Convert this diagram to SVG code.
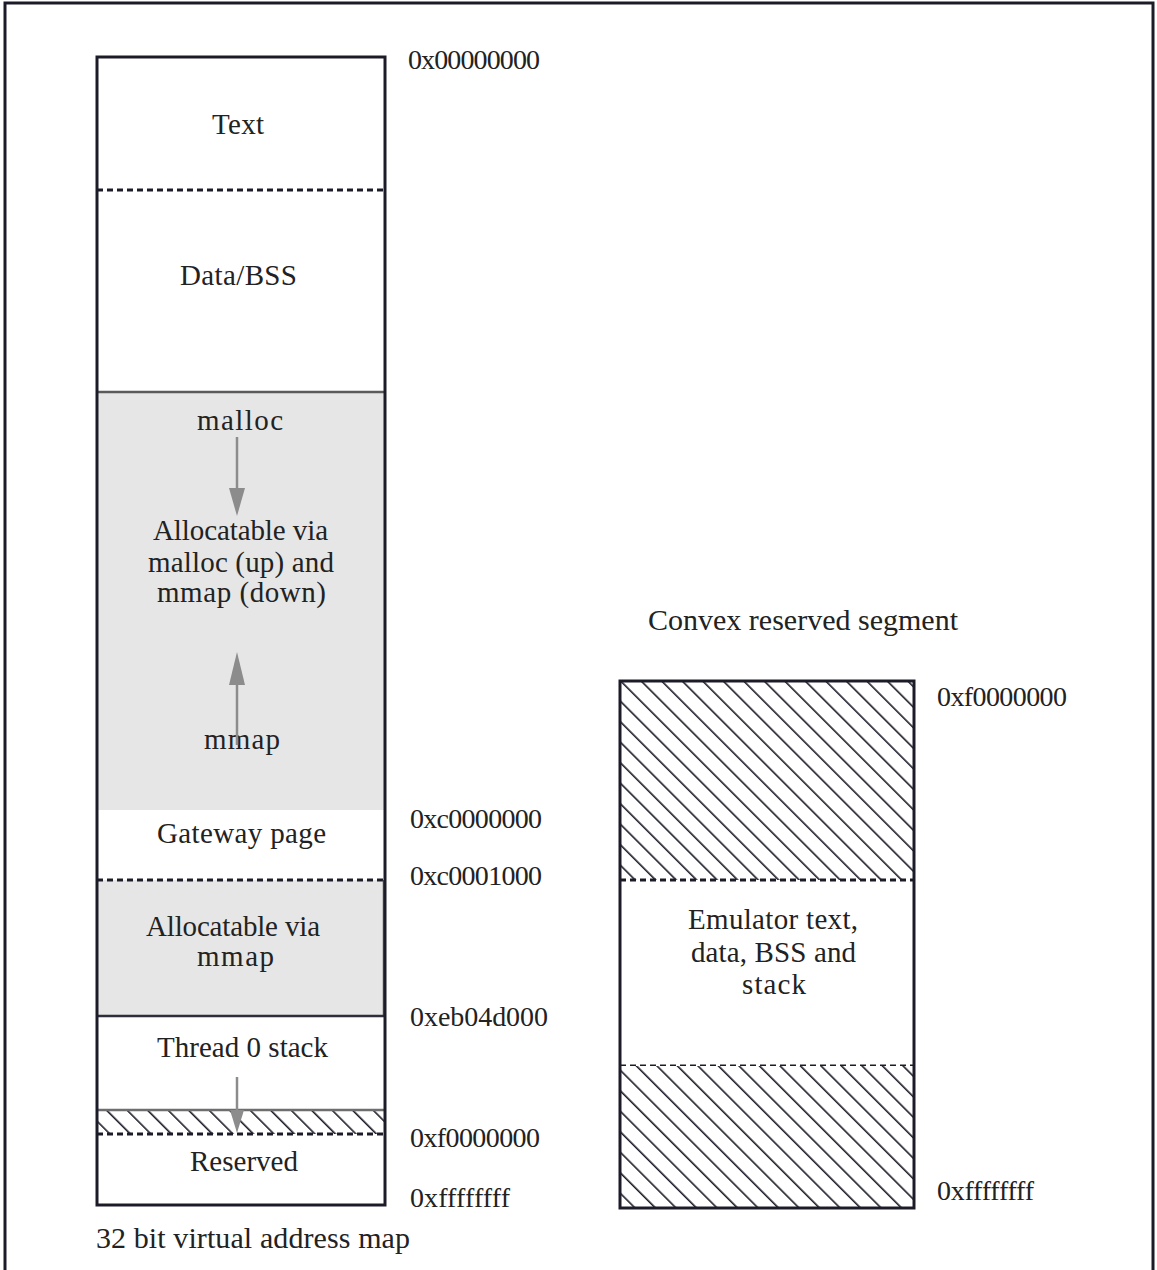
<svg xmlns="http://www.w3.org/2000/svg" width="1157" height="1270" viewBox="0 0 1157 1270">
  <defs>
    <!-- diagonal hatching: lines running from top-left to bottom-right -->
    <pattern id="hatch" width="14.5" height="14.5" patternUnits="userSpaceOnUse" patternTransform="rotate(-45)">
      <rect width="14.5" height="14.5" fill="#ffffff"/>
      <line x1="0" y1="0" x2="0" y2="14.5" stroke="#1c1c28" stroke-width="3.2"/>
    </pattern>
    <style>
      .frame { fill: none; stroke: #1c1c28; stroke-width: 3; }
      .box { fill: none; stroke: #1c1c28; stroke-width: 3; }
      .dash { stroke: #1c1c28; stroke-width: 3; stroke-dasharray: 6 4; fill: none; }
      .grayfill { fill: #e6e6e6; }
      .grayedge { stroke: #5a5a5a; stroke-width: 2.5; fill: none; }
      .lbl { font-family: "Liberation Serif", "DejaVu Serif", serif; font-size: 29px; fill: #222; text-anchor: middle; }
      .addr { font-family: "Liberation Serif", "DejaVu Serif", serif; font-size: 28px; fill: #222; }
      .cap { font-family: "Liberation Serif", "DejaVu Serif", serif; font-size: 30px; fill: #222; }
      .arrow { stroke: #8c8c8c; stroke-width: 2.5; fill: none; }
      .head { fill: #8c8c8c; }
    </style>
  </defs>

  <rect width="1157" height="1270" fill="#ffffff"/>

  <!-- outer frame (bottom edge runs past the page) -->
  <rect class="frame" x="5" y="3" width="1148" height="1280"/>

  <!-- 32 bit virtual address map -->
  <g id="map32">
    <g id="seg-text">
      <text class="lbl" x="238" y="134" textLength="52">Text</text>
    </g>
    <g id="seg-data">
      <line class="dash" x1="97" y1="190" x2="385" y2="190"/>
      <text class="lbl" x="238.5" y="285" textLength="117">Data/BSS</text>
    </g>
    <g id="seg-heap">
      <rect class="grayfill" x="98" y="392" width="286" height="418"/>
      <line class="grayedge" x1="97" y1="392" x2="385" y2="392"/>
      <text class="lbl" x="240" y="430" font-size="32" textLength="86">malloc</text>
      <text class="lbl" x="240.5" y="540" textLength="175">Allocatable via</text>
      <text class="lbl" x="241" y="572" textLength="186">malloc (up) and</text>
      <text class="lbl" x="241.5" y="602" textLength="169">mmap (down)</text>
      <text class="lbl" x="242" y="749" textLength="76">mmap</text>
    </g>
    <g id="seg-gateway">
      <text class="lbl" x="241.5" y="843" textLength="169">Gateway page</text>
    </g>
    <g id="seg-mmap">
      <rect class="grayfill" x="98" y="880" width="286" height="136"/>
      <line class="dash" x1="97" y1="880" x2="385" y2="880"/>
      <line class="grayedge" x1="384" y1="880" x2="384" y2="1016" stroke-width="1.5"/>
      <line x1="97" y1="1016" x2="385" y2="1016" stroke="#2e2e3a" stroke-width="2.5"/>
      <text class="lbl" x="233" y="936" font-size="25.5" textLength="174">Allocatable via</text>
      <text class="lbl" x="235.5" y="966" font-size="25.5" textLength="77">mmap</text>
    </g>
    <g id="seg-stack">
      <text class="lbl" x="242.5" y="1057" textLength="171">Thread 0 stack</text>
    </g>
    <g id="seg-guard">
      <rect x="98" y="1110" width="286" height="24" fill="url(#hatch)"/>
      <line x1="97" y1="1110" x2="385" y2="1110" stroke="#6e6e6e" stroke-width="2.5"/>
    </g>
    <g id="seg-reserved">
      <line class="dash" x1="97" y1="1134" x2="385" y2="1134"/>
      <text class="lbl" x="244" y="1171" textLength="108">Reserved</text>
    </g>
    <rect class="box" x="97" y="57" width="288" height="1148"/>
    <text class="cap" x="96" y="1248" textLength="314">32 bit virtual address map</text>
  </g>

  <!-- address marks beside the map -->
  <g id="addr32">
    <text class="addr" x="408" y="69" textLength="132">0x00000000</text>
    <text class="addr" x="410" y="828" textLength="132">0xc0000000</text>
    <text class="addr" x="410" y="885" textLength="132">0xc0001000</text>
    <text class="addr" x="410" y="1026" textLength="138">0xeb04d000</text>
    <text class="addr" x="410" y="1147" textLength="130">0xf0000000</text>
    <text class="addr" x="410" y="1207" textLength="100">0xffffffff</text>
  </g>

  <!-- Convex reserved segment -->
  <g id="convex">
    <text class="cap" x="648" y="630" font-size="28" textLength="310">Convex reserved segment</text>
    <g id="convex-top">
      <rect x="620" y="681" width="294" height="199" fill="url(#hatch)"/>
    </g>
    <g id="convex-emulator">
      <line class="dash" x1="620" y1="880" x2="914" y2="880"/>
      <text class="lbl" x="773" y="929" textLength="170">Emulator text,</text>
      <text class="lbl" x="773.5" y="962" textLength="165">data, BSS and</text>
      <text class="lbl" x="774" y="994" textLength="64">stack</text>
      <line class="dash" x1="620" y1="1066" x2="914" y2="1066"/>
    </g>
    <g id="convex-bottom">
      <rect x="620" y="1066" width="294" height="142" fill="url(#hatch)"/>
    </g>
    <rect class="box" x="620" y="681" width="294" height="527"/>
    <text class="addr" x="937" y="706" textLength="130">0xf0000000</text>
    <text class="addr" x="937" y="1200" textLength="97">0xffffffff</text>
  </g>

  <!-- growth arrows -->
  <g id="connectors">
    <line class="arrow" x1="237" y1="437" x2="237" y2="492"/>
    <polygon class="head" points="229,488 245,488 237,516"/>
    <line class="arrow" x1="237" y1="680" x2="237" y2="745"/>
    <polygon class="head" points="229,685 245,685 237,652"/>
    <line class="arrow" x1="237" y1="1077" x2="237" y2="1114"/>
    <polygon class="head" points="230,1110 244,1110 237,1133" fill="#9a9a9a"/>
  </g>
</svg>
